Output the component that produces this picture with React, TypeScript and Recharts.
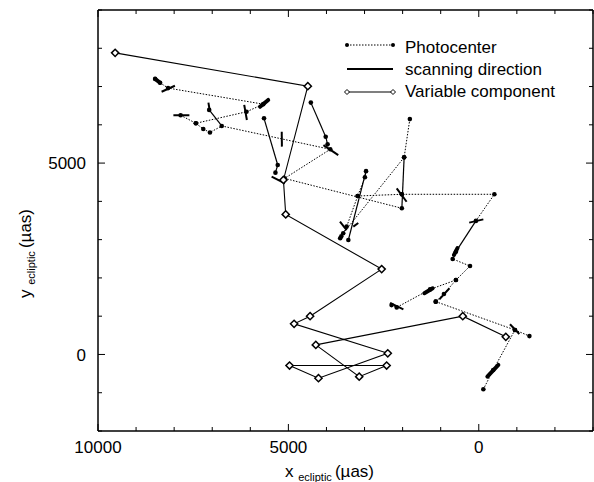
import { ScatterChart, Scatter, XAxis, YAxis, ReferenceLine, Legend } from 'recharts';

type Pt = { x: number; y: number };
const pts = (a: number[][]): Pt[] => a.map(([x, y]) => ({ x, y }));

const FONT = '"Liberation Sans", Arial, Helvetica, sans-serif';

// axis ticks (uas), labelled every 5000
const xTicks = [10000, 9000, 8000, 7000, 6000, 5000, 4000, 3000, 2000, 1000, 0, -1000, -2000, -3000];
const yTicks = [-2000, -1000, 0, 1000, 2000, 3000, 4000, 5000, 6000, 7000, 8000, 9000];

// variable component, in time order
const variableComponent = pts([
  [9550, 7880], [4490, 7010], [5130, 4560], [5070, 3660], [2550, 2230], [4430, 1000],
  [4850, 800], [2390, 30], [4210, -620], [4970, -290], [2420, -290], [3140, -580],
  [4280, 250], [420, 1000], [-710, 460],
]);

// photocenter tracks (dotted)
const photoA = pts([
  [8500, 7200], [8370, 7100], [8160, 6960], [5660, 6540], [6100, 6340], [7430, 6040],
  [7235, 5890], [7060, 5800], [6750, 5970], [3900, 5360], [5100, 4600], [2020, 3820],
]);
const photoB = pts([[7830, 6250], [7430, 6040]]);
const photoC = pts([[1810, 6150], [1960, 5150], [3560, 3165]]);
const photoD = pts([[2960, 4790], [2990, 4630], [3180, 4140], [3470, 3340], [3640, 3035], [3610, 3090]]);
const photoE = pts([[3180, 4140], [2020, 4185], [-410, 4185], [75, 3490]]);
const photoF = pts([[600, 2685], [685, 2495], [230, 2310], [600, 1945], [915, 1580], [1130, 1380]]);
const photoG = pts([[2290, 1290], [2155, 1230], [1280, 1700], [600, 1945]]);
const photoH = pts([[1130, 1380], [-950, 640], [-1330, 480]]);
const photoI = pts([[-950, 640], [-380, -405], [-120, -910]]);
// single observations without a dotted link
const photoSingles = pts([
  [7080, 6390], [5640, 6170], [4410, 6580], [4020, 5690], [3970, 5490], [5280, 4950],
  [5340, 4750], [3425, 2990], [1960, 5150], [2020, 4185],
]);
const photoTracks = [photoA, photoB, photoC, photoD, photoE, photoF, photoG, photoH, photoI];

// scanning direction segments [x1, y1, x2, y2]
const scanLong = [
  [7080, 6390, 6750, 5970], [5640, 6170, 5280, 4950], [5280, 4950, 5340, 4750],
  [4410, 6580, 4020, 5690], [4020, 5690, 3970, 5490], [1960, 5150, 2020, 3820],
  [2960, 4790, 3425, 2990], [75, 3490, 600, 2685],
];
const scanShort = [
  [8330, 6865, 7980, 7020], [8020, 6250, 7600, 6250], [7100, 6580, 7060, 6340],
  [6160, 6520, 6090, 6125], [5175, 5820, 5170, 5430], [4080, 5470, 3690, 5210],
  [2155, 4340, 1895, 3990], [3645, 3470, 3470, 3250], [3295, 3340, 3165, 3435],
  [250, 3445, -120, 3530], [1035, 1440, 770, 1730], [2330, 1350, 1980, 1180],
  [-820, 790, -1065, 535], [5440, 4645, 5090, 4470],
];
const scanBlobs = [
  [8500, 7200, 8370, 7100], [5745, 6470, 5530, 6650], [650, 2600, 560, 2780],
  [1430, 1600, 1210, 1730], [-225, -580, -515, -275],
];

const tickLen = (v: number) => (v % 5000 === 0 ? 7 : 4);

function BottomTick({ x, y, payload }: any) {
  const v = payload.value;
  return (
    <g>
      <line x1={x} y1={y} x2={x} y2={y - tickLen(v)} stroke="#000" />
      {v % 5000 === 0 && (
        <text x={x} y={y + 22} textAnchor="middle" fontSize={17} fontFamily={FONT} fill="#000">
          {String(v)}
        </text>
      )}
    </g>
  );
}

function TopTick({ x, y, payload }: any) {
  return <line x1={x} y1={y} x2={x} y2={y + tickLen(payload.value)} stroke="#000" />;
}

function LeftTick({ x, y, payload }: any) {
  const v = payload.value;
  return (
    <g>
      <line x1={x} y1={y} x2={x + tickLen(v)} y2={y} stroke="#000" />
      {v % 5000 === 0 && (
        <text x={x - 12} y={y} dy="0.36em" textAnchor="end" fontSize={17} fontFamily={FONT} fill="#000">
          {String(v)}
        </text>
      )}
    </g>
  );
}

function RightTick({ x, y, payload }: any) {
  return <line x1={x} y1={y} x2={x - tickLen(payload.value)} y2={y} stroke="#000" />;
}

function XLabel() {
  return (
    <text x={285} y={477} fontSize={17} fontFamily={FONT} fill="#000">
      <tspan>x </tspan>
      <tspan fontSize={11} dy={4}>ecliptic </tspan>
      <tspan dy={-4}>(µas)</tspan>
    </text>
  );
}

function YLabel() {
  return (
    <text x={31} y={298} transform="rotate(-90, 31, 298)" fontSize={17} fontFamily={FONT} fill="#000">
      <tspan>y </tspan>
      <tspan fontSize={11} dy={4}>ecliptic </tspan>
      <tspan dy={-4}>(µas)</tspan>
    </text>
  );
}

const dot = (p: any) => <circle cx={p.cx} cy={p.cy} r={2.3} fill="#000" />;
const diamond = (p: any) => (
  <polygon
    points={`${p.cx},${p.cy - 3.6} ${p.cx + 3.6},${p.cy} ${p.cx},${p.cy + 3.6} ${p.cx - 3.6},${p.cy}`}
    fill="#fff"
    stroke="#000"
    strokeWidth={1.5}
  />
);

function LegendBox() {
  const txt = { fontSize: 17, fontFamily: FONT, fill: '#000' };
  return (
    <svg width={250} height={80} style={{ display: 'block' }}>
      <line x1={7} y1={15} x2={53} y2={15} stroke="#000" strokeDasharray="1.5 1.5" />
      <circle cx={7} cy={15} r={2} fill="#000" />
      <circle cx={53} cy={15} r={2} fill="#000" />
      <text x={65} y={23} {...txt}>Photocenter</text>

      <line x1={7} y1={39} x2={53} y2={39} stroke="#000" strokeWidth={1.8} />
      <text x={65} y={45} {...txt}>scanning direction</text>

      <line x1={7} y1={62} x2={53} y2={62} stroke="#000" strokeWidth={1.2} />
      <polygon points="7,59.5 9.5,62 7,64.5 4.5,62" fill="#fff" stroke="#000" />
      <polygon points="53,59.5 55.5,62 53,64.5 50.5,62" fill="#fff" stroke="#000" />
      <text x={65} y={67} {...txt}>Variable component</text>
    </svg>
  );
}

const axisLine = { stroke: '#000', strokeWidth: 1.5 };

export default function App() {
  return (
    <>
      <style>{'body{margin:0}'}</style>
      <ScatterChart width={594} height={482} margin={{ top: 9, right: 0, bottom: 21, left: 38 }}>
        <XAxis
          xAxisId="b"
          type="number"
          dataKey="x"
          domain={[-3000, 10000]}
          reversed
          allowDataOverflow
          ticks={xTicks}
          interval={0}
          tickSize={0}
          tickMargin={0}
          tickLine={false}
          axisLine={axisLine}
          tick={BottomTick}
          height={30}
          label={<XLabel />}
        />
        <XAxis
          xAxisId="t"
          orientation="top"
          type="number"
          dataKey="x"
          domain={[-3000, 10000]}
          reversed
          allowDataOverflow
          ticks={xTicks}
          interval={0}
          tickSize={0}
          tickMargin={0}
          tickLine={false}
          axisLine={axisLine}
          tick={TopTick}
          height={1}
        />
        <YAxis
          yAxisId="l"
          type="number"
          dataKey="y"
          domain={[-2000, 9000]}
          allowDataOverflow
          ticks={yTicks}
          interval={0}
          tickSize={0}
          tickMargin={0}
          tickLine={false}
          axisLine={axisLine}
          tick={LeftTick}
          width={60}
          label={<YLabel />}
        />
        <YAxis
          yAxisId="r"
          orientation="right"
          type="number"
          dataKey="y"
          domain={[-2000, 9000]}
          allowDataOverflow
          ticks={yTicks}
          interval={0}
          tickSize={0}
          tickMargin={0}
          tickLine={false}
          axisLine={axisLine}
          tick={RightTick}
          width={1}
        />
        <Legend
          layout="vertical"
          align="center"
          verticalAlign="middle"
          wrapperStyle={{ left: 340, top: 30, width: 250, height: 80 }}
          content={() => <LegendBox />}
        />

        {photoTracks.map((track, i) => (
          <Scatter
            key={`pc${i}`}
            xAxisId="b"
            yAxisId="l"
            data={track}
            line={{ stroke: '#000', strokeWidth: 1, strokeDasharray: '1.5 1.5' }}
            shape={dot}
            isAnimationActive={false}
          />
        ))}
        <Scatter xAxisId="b" yAxisId="l" data={photoSingles} shape={dot} isAnimationActive={false} />

        {scanLong.map((s, i) => (
          <ReferenceLine
            key={`sl${i}`}
            xAxisId="b"
            yAxisId="l"
            segment={[{ x: s[0], y: s[1] }, { x: s[2], y: s[3] }]}
            stroke="#000"
            strokeWidth={1.2}
            ifOverflow="visible"
          />
        ))}
        {scanShort.map((s, i) => (
          <ReferenceLine
            key={`ss${i}`}
            xAxisId="b"
            yAxisId="l"
            segment={[{ x: s[0], y: s[1] }, { x: s[2], y: s[3] }]}
            stroke="#000"
            strokeWidth={2}
            ifOverflow="visible"
          />
        ))}
        {scanBlobs.map((s, i) => (
          <ReferenceLine
            key={`sb${i}`}
            xAxisId="b"
            yAxisId="l"
            segment={[{ x: s[0], y: s[1] }, { x: s[2], y: s[3] }]}
            stroke="#000"
            strokeWidth={4}
            strokeLinecap="round"
            ifOverflow="visible"
          />
        ))}

        <Scatter
          xAxisId="b"
          yAxisId="l"
          data={variableComponent}
          line={{ stroke: '#000', strokeWidth: 1.1 }}
          shape={diamond}
          isAnimationActive={false}
        />
      </ScatterChart>
    </>
  );
}
